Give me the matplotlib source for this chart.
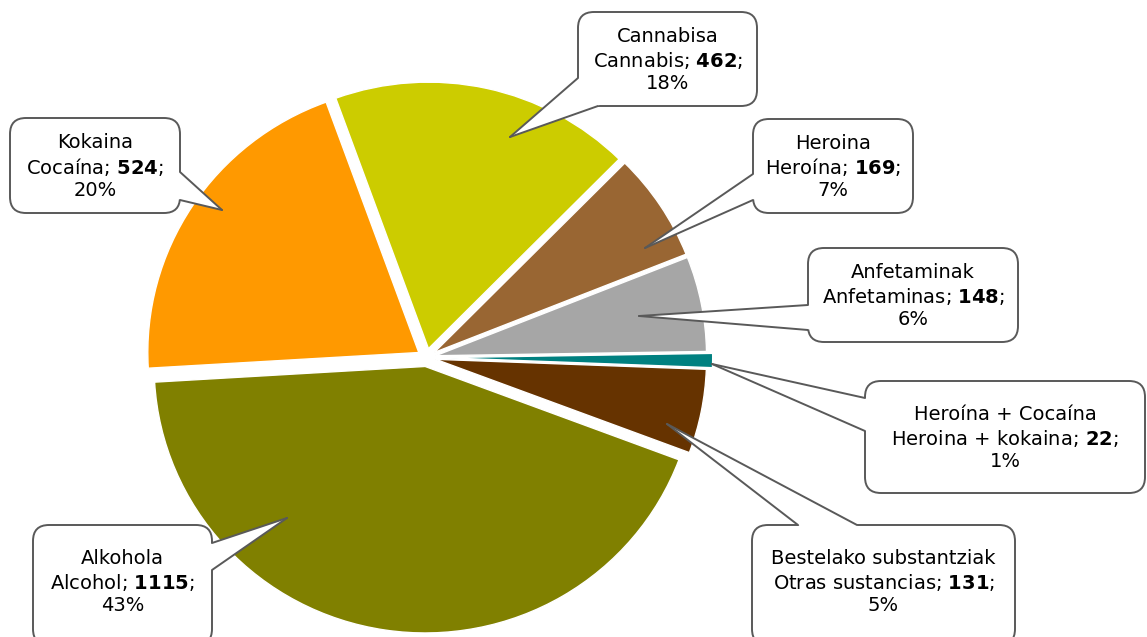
import numpy as np
import matplotlib
matplotlib.use("Agg")
import matplotlib.pyplot as plt
from matplotlib.patches import FancyBboxPatch, Polygon

plt.rcParams['font.family'] = ['DejaVu Sans']
plt.rcParams['mathtext.fontset'] = 'custom'
plt.rcParams['mathtext.rm'] = 'DejaVu Sans'
plt.rcParams['mathtext.bf'] = 'DejaVu Sans:bold'

# data (clockwise from the top-left edge of the cannabis slice)
names_eu = ["Cannabisa", "Heroina", "Anfetaminak", "Heroína + Cocaína",
            "Bestelako substantziak", "Alkohola", "Kokaina"]
names_es = ["Cannabis", "Heroína", "Anfetaminas", "Heroina + kokaina",
            "Otras sustancias", "Alcohol", "Cocaína"]
values = [462, 169, 148, 22, 131, 1115, 524]
colors = ["#CCCC00", "#996633", "#A6A6A6", "#008080", "#663300", "#808000", "#FF9900"]

W, H = 1147, 637
# pie placement in pixels (the original is slightly wider than tall)
cx, cy, rx, ry = 426.5, 357.5, 271, 266.5


def Y(y):
    return H - y


fig = plt.figure(figsize=(W / 100, H / 100), dpi=100)

pax = fig.add_axes([0, 0, 1, 1])
explode = [0.034] * len(values)
explode[3] = 0.056
pax.pie(values, colors=colors, startangle=110, counterclock=False,
        radius=1, center=(0, 0), explode=explode,
        wedgeprops=dict(edgecolor='white', linewidth=1))
pax.set_xlim(-cx / rx, (W - cx) / rx)
pax.set_ylim(-(H - cy) / ry, cy / ry)
pax.set_aspect('auto')
pax.axis('off')

ax = fig.add_axes([0, 0, 1, 1])
ax.set_xlim(0, W)
ax.set_ylim(0, H)
ax.axis('off')
ax.patch.set_visible(False)

# callout layout in image pixels: box (x0, y0, x1, y1), pointer base, tip
callouts = [
    ((578, 12, 757, 106), (578, 78), (598, 106), (510, 137)),
    ((753, 119, 913, 213), (753, 174), (753, 200), (645, 248)),
    ((808, 248, 1018, 342), (808, 305), (808, 330), (639, 316)),
    ((865, 381, 1145, 493), (865, 398), (865, 431), (712, 364)),
    ((752, 525, 1015, 645), (857, 525), (798, 525), (667, 424)),
    ((33, 525, 212, 645), (212, 543), (212, 570), (287, 518)),
    ((10, 118, 180, 213), (180, 172), (180, 200), (222, 210)),
]

total = sum(values)
edge = "#595959"
for i, (box, b1, b2, tip) in enumerate(callouts):
    x0, y0, x1, y1 = box
    patch = FancyBboxPatch((x0, Y(y1)), x1 - x0, y1 - y0,
                           boxstyle="round,pad=0,rounding_size=16",
                           facecolor="white", edgecolor=edge, linewidth=1.4, zorder=5)
    ax.add_patch(patch)
    bx, by = (x0 + x1) / 2, (y0 + y1) / 2
    # pointer: white fill covering the box edge, then two gray sides
    def inner(p):
        d = np.array([bx - p[0], by - p[1]])
        d = d / np.linalg.norm(d) * 4
        return (p[0] + d[0], Y(p[1] + d[1]))
    poly = Polygon([inner(b1), (b1[0], Y(b1[1])), (tip[0], Y(tip[1])),
                    (b2[0], Y(b2[1])), inner(b2)],
                   closed=True, facecolor="white", edgecolor="none", zorder=6)
    ax.add_patch(poly)
    for b in (b1, b2):
        ax.plot([b[0], tip[0]], [Y(b[1]), Y(tip[1])], color=edge, lw=1.4,
                zorder=7, solid_capstyle='round')
    pct = round(values[i] / total * 100)
    label = f"{names_eu[i]}\n{names_es[i]}; $\\mathbf{{{values[i]}}}$;\n{pct}%"
    ty = (y0 + min(y1, H)) / 2 + 1
    ax.text(bx, Y(ty), label, ha='center', va='center',
            multialignment='center', fontsize=14, color='black',
            linespacing=1.2, zorder=8)

fig.savefig("out.png", dpi=100)
